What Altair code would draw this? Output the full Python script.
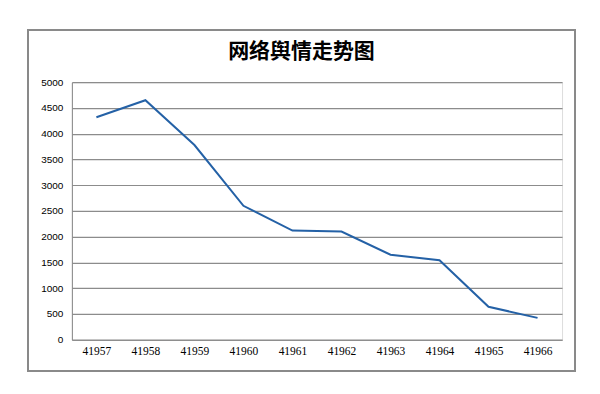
import altair as alt
import pandas as pd

categories = ["41957", "41958", "41959", "41960", "41961", "41962", "41963", "41964", "41965", "41966"]
values = [4320, 4650, 3780, 2600, 2120, 2100, 1650, 1545, 640, 425]
y_ticks = [0, 500, 1000, 1500, 2000, 2500, 3000, 3500, 4000, 4500, 5000]
title_text = "网络舆情走势图"

df = pd.DataFrame({"cat": categories, "val": values})
tdf = pd.DataFrame({"t": [title_text]})

W, H = 491, 258

line = alt.Chart(df).mark_line(color="#2461a6", strokeWidth=2).encode(
    x=alt.X("cat:O", sort=categories, title=None,
            scale=alt.Scale(type="point", padding=0.5),
            axis=alt.Axis(labelAngle=0, labelFont="Liberation Serif", labelFontSize=11.5,
                          labelColor="#000", ticks=False, domain=True, domainColor="#888",
                          labelPadding=6, grid=False)),
    y=alt.Y("val:Q", title=None, scale=alt.Scale(domain=[0, 5000], nice=False),
            axis=alt.Axis(values=y_ticks, format="d", labelFont="Liberation Sans", labelFontSize=10,
                          labelColor="#000", ticks=False, domain=True, domainColor="#888",
                          labelPadding=9, grid=True, gridColor="#8c8c8c", gridWidth=1.2)),
)

border = alt.Chart(df).mark_rect(fill=None, stroke="#8a8a8a", strokeWidth=1.5).encode(
    x=alt.value(-44), x2=alt.value(504), y=alt.value(-52), y2=alt.value(289)
)

title = alt.Chart(tdf).mark_text(font="Noto Sans CJK SC", fontSize=21, fontWeight="bold",
                                 color="#000", align="center", baseline="middle").encode(
    text="t:N", x=alt.value(230), y=alt.value(-30)
)

chart = alt.layer(border, title, line).properties(
    width=W, height=H,
    autosize=alt.AutoSizeParams(type="none"),
    padding={"left": 64, "top": 74, "right": 30, "bottom": 40},
).configure_view(stroke=None).configure(background="white")

chart.save("out.html", embed_options={"renderer": "svg", "actions": False})
